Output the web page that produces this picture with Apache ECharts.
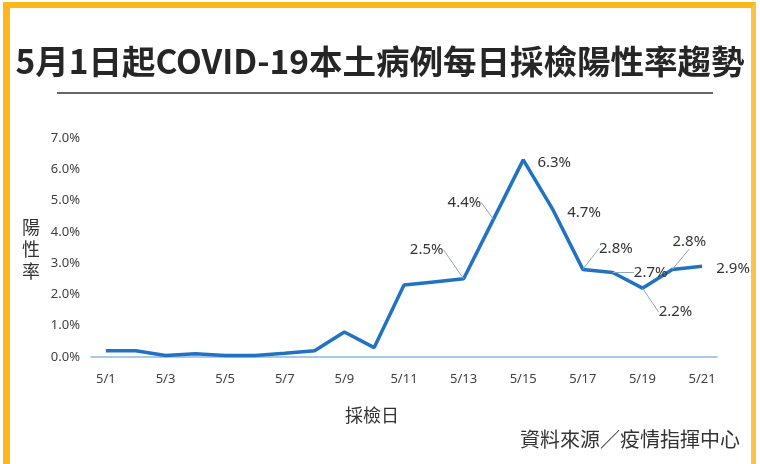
<!DOCTYPE html>
<html>
<head>
<meta charset="utf-8">
<script src="https://cdn.jsdelivr.net/npm/echarts@6/dist/echarts.min.js"></script>
<style>
  html, body { margin: 0; padding: 0; background: #ffffff; }
  #frame { position: absolute; left: 3px; top: 2px; width: 741px; height: 480px;
           border-left: 7px solid #FDB71A; border-top: 6px solid #FDB71A; border-right: 5px solid #FDC24A; }
  #chart { position: absolute; left: 0; top: 0; width: 760px; height: 464px; }
</style>
</head>
<body>
<div id="frame"></div>
<div id="chart"></div>
<script>
// ---- data ----
const categories = ['5/1','5/2','5/3','5/4','5/5','5/6','5/7','5/8','5/9','5/10','5/11',
                    '5/12','5/13','5/14','5/15','5/16','5/17','5/18','5/19','5/20','5/21'];
const positivityRate = [0.2, 0.2, 0.05, 0.1, 0.05, 0.05, 0.12, 0.2, 0.8, 0.3, 2.3,
                        2.4, 2.5, 4.4, 6.3, 4.7, 2.8, 2.7, 2.2, 2.8, 2.9];
const labeledDays = ['5/13','5/14','5/15','5/16','5/17','5/18','5/19','5/20','5/21'];
const yTicks = [0, 1, 2, 3, 4, 5, 6, 7];

// ---- label placement (style) ----
const labelShift = {
  '5/13': [-37, -29, true],
  '5/14': [-29, -17, true],
  '5/15': [31, 3, false],
  '5/16': [31, 3, false],
  '5/17': [33, -21, true],
  '5/18': [38, 0, true],
  '5/19': [33, 24, true],
  '5/20': [17, -28, true],
  '5/21': [31, 2, false]
};

const seriesData = positivityRate.map((v, i) => {
  const day = categories[i];
  const shown = labeledDays.indexOf(day) >= 0;
  const item = { value: v, label: { show: shown } };
  if (shown) item.labelLine = { show: labelShift[day][2] };
  return item;
});

const chart = echarts.init(document.getElementById('chart'), null, { renderer: 'canvas' });
chart.setOption({
  backgroundColor: 'transparent',
  animation: false,
  title: {
    text: '5月1日起COVID-19本土病例每日採檢陽性率趨勢',
    left: 'center',
    top: 40,
    textStyle: { fontFamily: '"Noto Sans CJK TC", sans-serif', fontSize: 33.5, fontWeight: 'bold', color: '#262626' }
  },
  grid: { left: 91, right: 43, top: 138, bottom: 107 },
  xAxis: {
    type: 'category',
    data: categories,
    boundaryGap: true,
    axisLine: { lineStyle: { color: '#8DB8E2', width: 1.5 } },
    axisTick: { interval: 1, length: 5, lineStyle: { color: '#8DB8E2', width: 1.2 } },
    axisLabel: { interval: 1, margin: 16, color: '#404040', fontSize: 13,
                 fontFamily: '"Noto Sans", sans-serif' },
    splitLine: { show: false }
  },
  yAxis: {
    type: 'value',
    min: yTicks[0],
    max: yTicks[yTicks.length - 1],
    interval: 1,
    axisLine: { show: false },
    axisTick: { show: false },
    splitLine: { show: false },
    axisLabel: { margin: 11, color: '#404040', fontSize: 13,
                 fontFamily: '"Noto Sans", sans-serif',
                 formatter: v => v.toFixed(1) + '%' }
  },
  series: [{
    type: 'line',
    data: seriesData,
    showSymbol: true,
    symbol: 'circle',
    symbolSize: 0.1,
    itemStyle: { color: 'rgba(34,114,195,0)' },
    lineStyle: { color: '#2272C3', width: 3.5 },
    label: {
      position: 'inside',
      formatter: p => p.value + '%',
      color: '#333333',
      fontSize: 15,
      fontFamily: '"Noto Sans", sans-serif'
    },
    labelLine: { show: true, lineStyle: { color: '#8FA9B8', width: 1 } },
    labelLayout: function (p) {
      const s = labelShift[categories[p.dataIndex]];
      return s ? { dx: s[0], dy: s[1] } : {};
    }
  }],
  graphic: [
    { type: 'line', shape: { x1: 57, y1: 93, x2: 713, y2: 93 }, style: { stroke: '#333333', lineWidth: 1.5 } },
    { type: 'text', left: 22, top: 216, style: { text: '陽\n性\n率', fontSize: 18, lineHeight: 22,
        fill: '#333333', fontFamily: '"Noto Sans CJK TC", sans-serif' } },
    { type: 'text', left: 345, top: 406, style: { text: '採檢日', fontSize: 18,
        fill: '#333333', fontFamily: '"Noto Sans CJK TC", sans-serif' } },
    { type: 'text', right: 20, top: 429, style: { text: '資料來源／疫情指揮中心', fontSize: 20,
        fill: '#333333', fontFamily: '"Noto Sans CJK TC", sans-serif' } }
  ]
});
</script>
</body>
</html>
